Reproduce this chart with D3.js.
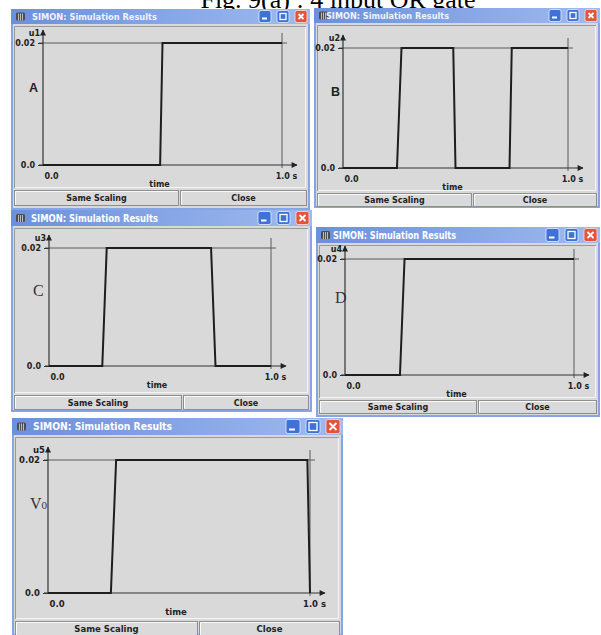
<!DOCTYPE html>
<html><head><meta charset="utf-8">
<script src="https://cdn.jsdelivr.net/npm/d3@7"></script>
<style>body{margin:0;background:#fff;} svg{display:block;}</style>
</head><body>
<svg id="c" width="601" height="635"></svg>
<script>
// ---------- data ----------
const figTitle = "Fig. 9(a) : 4 input OR gate";
const windowTitle = "SIMON: Simulation Results";
const signalNames = ["u1", "u2", "u3", "u4", "u5"];
const panelLabels = ["A", "B", "C", "D", "V0"];
const xTickLabels = ["0.0", "1.0 s"];
const yTickLabels = ["0.0", "0.02"];
const xAxisTitle = "time";
const buttonLabels = ["Same Scaling", "Close"];
const xDomain = [0, 1.0];
const yDomain = [0, 0.02];

const timeA = [0, 0.49, 0.50, 1.0];
const valA  = [0, 0, 0.02, 0.02];
const timeB = [0, 0.24, 0.26, 0.49, 0.50, 0.74, 0.75, 1.0];
const valB  = [0, 0, 0.02, 0.02, 0, 0, 0.02, 0.02];
const timeC = [0, 0.24, 0.26, 0.73, 0.75, 1.0];
const valC  = [0, 0, 0.02, 0.02, 0, 0];
const timeD = [0, 0.24, 0.26, 1.0];
const valD  = [0, 0, 0.02, 0.02];
const timeV = [0, 0.24, 0.26, 0.99, 1.0];
const valV  = [0, 0, 0.02, 0.02, 0];

const seriesTimes = [timeA, timeB, timeC, timeD, timeV];
const seriesVals  = [valA, valB, valC, valD, valV];

// ---------- layout (positions / styles) ----------
const layout = [
  {win:[11,9,299,201],  tb:15, plot:[43,282,43,165],  btnY:190, btnH:16, split:179, lab:[29,92],  serif:false, fs:8,   tx:32,  tw:125},
  {win:[314,8,286,200], tb:15, plot:[343,568,48,168], btnY:193, btnH:14, split:472, lab:[331,96], serif:false, fs:8,   tx:326, tw:123},
  {win:[11,210,301,202],tb:16, plot:[49,271,248,366], btnY:395, btnH:15, split:182, lab:[33,296], serif:true,  fs:8,   tx:31,  tw:127},
  {win:[316,227,284,190],tb:16,plot:[345,574,259,375],btnY:400, btnH:14, split:477, lab:[335,303],serif:true,  fs:8,   tx:333, tw:123},
  {win:[12,418,331,218],tb:17, plot:[48,310,460,593], btnY:621, btnH:15, split:198, lab:[30,509], serif:true,  fs:8.5, tx:33,  tw:139}
];

const SANS = "'DejaVu Sans', Verdana, sans-serif";
const SERIF = "'Liberation Serif', 'Times New Roman', serif";

const svg = d3.select("#c");
const defs = svg.append("defs");
const grad = defs.append("linearGradient").attr("id", "tbg").attr("x1", 0).attr("x2", 1).attr("y1", 0).attr("y2", 0);
grad.append("stop").attr("offset", 0).attr("stop-color", "#6b90dc");
grad.append("stop").attr("offset", 1).attr("stop-color", "#9fbaee");
defs.append("marker").attr("id", "arr").attr("viewBox", "0 0 10 10")
  .attr("refX", 9).attr("refY", 5).attr("markerWidth", 7).attr("markerHeight", 6)
  .attr("markerUnits", "userSpaceOnUse").attr("orient", "auto")
  .append("path").attr("d", "M0,0L10,5L0,10z").attr("fill", "#222");

// figure title (partly hidden behind windows)
svg.append("text").attr("x", 338).attr("y", 8).attr("text-anchor", "middle")
  .style("font-family", SERIF).style("font-size", "26px").attr("fill", "#000")
  .text(figTitle);

layout.forEach((L, i) => {
  const [wx, wy, ww, wh] = L.win;
  const g = svg.append("g");
  // frame
  g.append("rect").attr("x", wx).attr("y", wy).attr("width", ww).attr("height", wh).attr("fill", "#86a5e2");
  g.append("rect").attr("x", wx).attr("y", wy).attr("width", ww).attr("height", L.tb).attr("fill", "url(#tbg)");
  g.append("rect").attr("x", wx + 2).attr("y", wy + L.tb).attr("width", ww - 4).attr("height", wh - L.tb - 2).attr("fill", "#d9d9d9");
  // plot panel bevel
  const py0 = wy + L.tb + 2, py1 = L.btnY - 2, px0 = wx + 3, px1 = wx + ww - 4;
  g.append("path").attr("d", `M${px0+0.5},${py1}V${py0+0.5}H${px1}`).attr("stroke", "#9a9a9a").attr("fill", "none");
  g.append("path").attr("d", `M${px0+1},${py1-0.5}H${px1-0.5}V${py0+1}`).attr("stroke", "#f5f5f5").attr("fill", "none");

  // title bar icon
  const cy = wy + L.tb / 2;
  g.append("rect").attr("x", wx + 5).attr("y", cy - 4).attr("width", 9).attr("height", 8).attr("rx", 1.5).attr("fill", "#4d4d4d");
  g.append("path").attr("d", `M${wx+7.5},${cy-3}V${cy+4}M${wx+9.5},${cy-3}V${cy+4}M${wx+11.5},${cy-3}V${cy+4}`)
    .attr("stroke", "#d8d8d8").attr("stroke-width", 0.8);
  g.append("text").attr("x", L.tx).attr("y", cy + 3.5)
    .attr("textLength", L.tw).attr("lengthAdjust", "spacingAndGlyphs")
    .style("font-family", SANS).style("font-weight", "bold").style("font-size", (L.tb - 6) + "px")
    .attr("fill", i < 2 ? "#eef3fc" : "#ffffff").text(windowTitle);

  // title bar buttons
  const s = L.tb - 3, by = wy + 1.5;
  const closeX = wx + ww - 3 - s, maxX = closeX - s - 6, minX = maxX - s - 6;
  [minX, maxX].forEach((bx, k) => {
    g.append("rect").attr("x", bx).attr("y", by).attr("width", s).attr("height", s).attr("rx", 2)
      .attr("fill", "#3f72d6").attr("stroke", "#e6eefc").attr("stroke-width", 0.8);
    if (k === 0) g.append("rect").attr("x", bx + 3).attr("y", by + s - 5).attr("width", s/2 - 1).attr("height", 2).attr("fill", "#fff");
    else g.append("rect").attr("x", bx + 3).attr("y", by + 3).attr("width", s - 6).attr("height", s - 6)
      .attr("fill", "none").attr("stroke", "#fff").attr("stroke-width", 1.3);
  });
  g.append("rect").attr("x", closeX).attr("y", by).attr("width", s).attr("height", s).attr("rx", 2)
    .attr("fill", "#e4533a").attr("stroke", "#f6e0da").attr("stroke-width", 0.8);
  g.append("path").attr("d", `M${closeX+3.5},${by+3.5}L${closeX+s-3.5},${by+s-3.5}M${closeX+s-3.5},${by+3.5}L${closeX+3.5},${by+s-3.5}`)
    .attr("stroke", "#fff").attr("stroke-width", 1.8);

  // bottom buttons
  const bxs = [[wx + 3, L.split], [L.split + 1, wx + ww - 3]];
  bxs.forEach(([a, b], k) => {
    g.append("rect").attr("x", a + 0.5).attr("y", L.btnY + 0.5).attr("width", b - a - 1).attr("height", L.btnH - 1)
      .attr("fill", "#dadada").attr("stroke", "#8e8e8e");
    g.append("path").attr("d", `M${a+1.5},${L.btnY+L.btnH-1.5}V${L.btnY+1.5}H${b-1.5}`).attr("stroke", "#fafafa").attr("fill", "none");
    g.append("text").attr("x", (a + b) / 2).attr("y", L.btnY + L.btnH / 2 + 3).attr("text-anchor", "middle")
      .style("font-family", SANS).style("font-weight", "bold").style("font-size", L.fs + "px").attr("fill", "#222")
      .text(buttonLabels[k]);
  });

  // scales
  const x = d3.scaleLinear().domain(xDomain).range([L.plot[0], L.plot[1]]);
  const y = d3.scaleLinear().domain(yDomain).range([L.plot[3], L.plot[2]]);

  // reference lines at max value and end time
  g.append("line").attr("x1", x(0) - 4).attr("x2", x(1) + 5).attr("y1", y(0.02)).attr("y2", y(0.02))
    .attr("stroke", "#5a5a5a").attr("stroke-width", 1);
  g.append("line").attr("x1", x(1)).attr("x2", x(1)).attr("y1", y(0.02) - 10).attr("y2", y(0) + 3)
    .attr("stroke", "#5a5a5a").attr("stroke-width", 1);

  // axes with arrows
  g.append("line").attr("x1", x(0)).attr("x2", x(0)).attr("y1", y(0)).attr("y2", y(0.02) - 13)
    .attr("stroke", "#333").attr("stroke-width", 1.2).attr("marker-end", "url(#arr)");
  g.append("line").attr("x1", x(0) - 4).attr("x2", x(1) + 15).attr("y1", y(0)).attr("y2", y(0))
    .attr("stroke", "#333").attr("stroke-width", 1.2).attr("marker-end", "url(#arr)");

  // y ticks via d3 axis
  const ya = g.append("g").attr("transform", `translate(${x(0)},0)`)
    .call(d3.axisLeft(y).tickValues(yDomain).tickFormat((d, k) => yTickLabels[k]).tickSize(5).tickPadding(3));
  ya.select(".domain").remove();
  ya.selectAll("line").attr("stroke", "#333");
  ya.selectAll("text").style("font-family", SANS).style("font-weight", "bold").style("font-size", L.fs + "px").attr("fill", "#222");

  // x ticks via d3 axis
  const xa = g.append("g").attr("transform", `translate(0,${y(0)})`)
    .call(d3.axisBottom(x).tickValues(xDomain).tickFormat((d, k) => xTickLabels[k]).tickSize(0).tickPadding(8));
  xa.select(".domain").remove();
  xa.selectAll("text").style("font-family", SANS).style("font-weight", "bold").style("font-size", L.fs + "px").attr("fill", "#222")
    .attr("text-anchor", (d, k) => k === 0 ? "start" : "middle").attr("dx", (d, k) => k === 0 ? 1 : 4);

  // axis titles
  g.append("text").attr("x", x(0) - 3).attr("y", y(0.02) - 7).attr("text-anchor", "end")
    .style("font-family", SANS).style("font-weight", "bold").style("font-size", L.fs + "px").attr("fill", "#222")
    .text(signalNames[i]);
  g.append("text").attr("x", (x(0) + x(1)) / 2 - 3).attr("y", y(0) + 22).attr("text-anchor", "middle")
    .style("font-family", SANS).style("font-weight", "bold").style("font-size", L.fs + "px").attr("fill", "#222")
    .text(xAxisTitle);

  // panel label
  const lt = g.append("text").attr("x", L.lab[0]).attr("y", L.lab[1]).attr("fill", L.serif ? "#333" : "#222");
  if (L.serif) {
    const lbl = panelLabels[i];
    lt.style("font-family", SERIF).style("font-size", "16px");
    lt.append("tspan").text(lbl[0]);
    if (lbl.length > 1) lt.append("tspan").style("font-size", "11px").text(lbl.slice(1));
  } else {
    lt.style("font-family", "'Liberation Sans', Arial, sans-serif").style("font-weight", "bold").style("font-size", "12.5px").text(panelLabels[i]);
  }

  // signal
  const pts = seriesTimes[i].map((t, k) => [t, seriesVals[i][k]]);
  g.append("path").datum(pts)
    .attr("d", d3.line().x(d => x(d[0])).y(d => y(d[1])))
    .attr("fill", "none").attr("stroke", "#1e1e1e").attr("stroke-width", 2).attr("stroke-linejoin", "miter");
});
</script>
</body></html>
